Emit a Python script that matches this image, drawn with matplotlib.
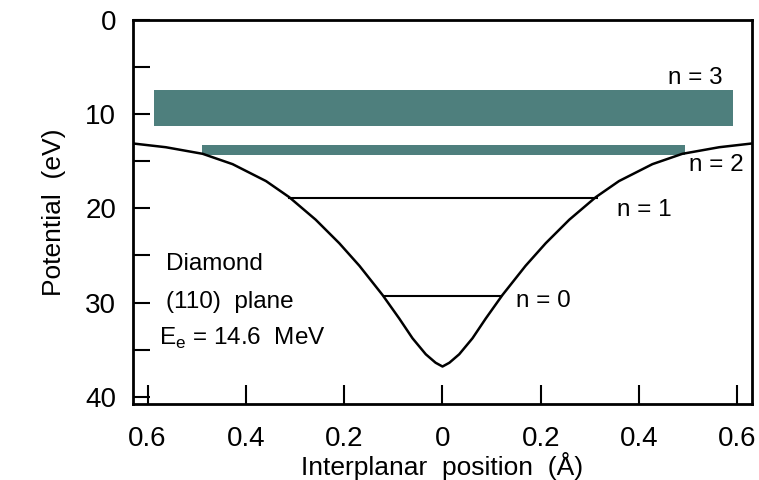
import matplotlib.pyplot as plt

plt.rcParams['font.family'] = ['Liberation Sans', 'DejaVu Sans']

# Planar potential (x in Angstrom, U in eV)
pos = [-0.63, -0.563, -0.488, -0.427, -0.359, -0.312, -0.258, -0.21, -0.169, -0.122,
       -0.088, -0.061, -0.034, -0.014, 0.0, 0.014, 0.034, 0.061, 0.088, 0.122,
       0.169, 0.21, 0.258, 0.312, 0.359, 0.427, 0.488, 0.563, 0.63]
potential = [13.1, 13.5, 14.2, 15.3, 17.1, 18.8, 21.2, 23.7, 26.1, 29.2,
             31.7, 33.8, 35.5, 36.4, 36.8, 36.4, 35.5, 33.8, 31.7, 29.2,
             26.1, 23.7, 21.2, 18.8, 17.1, 15.3, 14.2, 13.5, 13.1]

# Bound levels (single lines)
level_names = ['n = 0', 'n = 1']
level_energy = [29.3, 18.9]
level_left = [-0.122, -0.314]
level_right = [0.122, 0.316]

# Above-barrier bands
band_names = ['n = 2', 'n = 3']
band_top = [13.3, 7.45]
band_bottom = [14.3, 11.2]
band_left = [-0.49, -0.586]
band_right = [0.494, 0.59]

label_x = [0.15, 0.354, 0.502, 0.458]
label_y = [29.8, 20.2, 15.4, 6.1]

xticks = [-0.6, -0.4, -0.2, 0, 0.2, 0.4, 0.6]
xtick_labels = ['0.6', '0.4', '0.2', '0', '0.2', '0.4', '0.6']
yticks = [0, 10, 20, 30, 40]

fig = plt.figure(figsize=(7.59, 4.8), dpi=100)
ax = fig.add_axes([0.175, 0.158, 0.816, 0.8])

teal = '#4e7f7d'
for lo, hi, l, r in zip(band_top, band_bottom, band_left, band_right):
    ax.fill_between([l, r], lo, hi, color=teal, linewidth=0)

ax.hlines(level_energy, level_left, level_right, color='black', linewidth=1.5)
ax.plot(pos, potential, color='black', linewidth=1.8, solid_joinstyle='round')

for name, tx, ty in zip(level_names + band_names, label_x, label_y):
    ax.text(tx, ty, name, fontsize=17.5, va='center', ha='left')

ax.text(-0.563, 25.9, 'Diamond', fontsize=17.5, va='center')
ax.text(-0.563, 29.9, '(110)  plane', fontsize=17.5, va='center')
ax.text(-0.577, 33.8, r'E$_\mathregular{e}$ = 14.6  MeV', fontsize=17.5, va='center')

ax.set_xlim(-0.63, 0.63)
ax.set_ylim(40.8, 0)
ax.set_xticks(xticks)
ax.set_xticklabels(xtick_labels)
ax.set_yticks(yticks)
ax.set_yticks([5, 15, 25, 35], minor=True)

ax.tick_params(axis='both', which='major', direction='in', labelsize=20, width=1.5)
ax.tick_params(axis='x', which='major', length=14, pad=16)
ax.tick_params(axis='y', which='major', length=12, pad=12)
ax.tick_params(axis='y', which='minor', direction='in', length=12, width=1.5)
for s in ax.spines.values():
    s.set_linewidth(2)

ax.set_xlabel('Interplanar  position  (Å)', fontsize=19, labelpad=0)
ax.set_ylabel('Potential  (eV)', fontsize=19, labelpad=14)

fig.savefig('out.png', dpi=100)
